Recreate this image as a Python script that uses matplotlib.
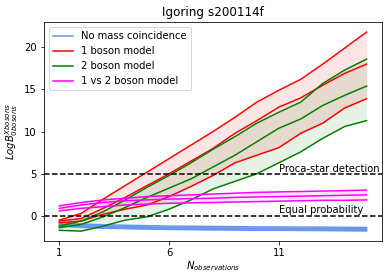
import numpy as np
import matplotlib
matplotlib.use("Agg")
import matplotlib.pyplot as plt

# Number of observations
n_obs = np.arange(1, 16)

# No mass coincidence (upper, median, lower)
none_hi = [-0.8, -0.95, -1.05, -1.1, -1.15, -1.2, -1.22, -1.25, -1.27, -1.3, -1.3, -1.32, -1.33, -1.35, -1.37]
none_md = [-1.0, -1.15, -1.25, -1.3, -1.35, -1.4, -1.42, -1.45, -1.47, -1.5, -1.5, -1.52, -1.53, -1.55, -1.57]
none_lo = [-1.2, -1.35, -1.45, -1.5, -1.55, -1.6, -1.62, -1.65, -1.67, -1.7, -1.7, -1.72, -1.73, -1.75, -1.77]

# 1 boson model
one_hi = [-0.5, 0.3, 2.0, 3.6, 5.2, 6.8, 8.4, 10.0, 11.7, 13.5, 14.9, 16.2, 18.0, 19.9, 21.8]
one_md = [-0.6, -0.3, 0.9, 2.2, 3.6, 5.0, 6.5, 8.0, 9.8, 11.3, 12.9, 14.0, 15.5, 16.9, 18.0]
one_lo = [-0.8, -0.6, 0.2, 0.8, 1.3, 2.3, 3.5, 4.8, 6.3, 7.2, 8.1, 9.8, 11.0, 12.8, 13.9]

# 2 boson model
two_hi = [-1.2, -0.6, 0.5, 1.9, 3.4, 4.8, 6.3, 7.9, 9.4, 11.0, 12.3, 13.5, 15.7, 17.3, 18.6]
two_md = [-1.4, -1.0, -0.1, 1.0, 2.2, 3.3, 4.4, 5.8, 7.2, 8.8, 10.4, 11.5, 13.1, 14.3, 15.4]
two_lo = [-1.7, -1.8, -1.2, -0.5, -0.1, 0.8, 1.9, 3.2, 4.1, 5.0, 6.3, 7.6, 9.2, 10.6, 11.3]

# 1 vs 2 boson model
vs_hi = [1.2, 1.6, 1.9, 2.1, 2.3, 2.4, 2.5, 2.6, 2.7, 2.8, 2.85, 2.9, 2.95, 3.0, 3.07]
vs_md = [0.9, 1.3, 1.6, 1.8, 1.9, 2.0, 2.05, 2.1, 2.2, 2.25, 2.3, 2.35, 2.4, 2.45, 2.5]
vs_lo = [0.6, 0.9, 1.1, 1.3, 1.4, 1.5, 1.55, 1.6, 1.65, 1.7, 1.75, 1.8, 1.85, 1.85, 1.9]

series = [
    ("No mass coincidence", "cornflowerblue", none_hi, none_md, none_lo),
    ("1 boson model", "red", one_hi, one_md, one_lo),
    ("2 boson model", "green", two_hi, two_md, two_lo),
    ("1 vs 2 boson model", "magenta", vs_hi, vs_md, vs_lo),
]

fig = plt.figure(figsize=(389 / 72, 280 / 72), dpi=72)
ax = fig.add_axes([0.113, 0.139, 0.869, 0.782])

for label, color, hi, md, lo in series:
    alpha = 0.8 if color == "cornflowerblue" else 0.1
    ax.fill_between(n_obs, lo, hi, color=color, alpha=alpha, linewidth=0)
    ax.plot(n_obs, md, color=color, label=label)
    ax.plot(n_obs, hi, color=color)
    ax.plot(n_obs, lo, color=color)

ax.axhline(5, color="black", linestyle="--")
ax.axhline(0, color="black", linestyle="--")
ax.text(11, 5.25, "Proca-star detection")
ax.text(11, 0.3, "Equal probability")

ax.set_xticks([1, 6, 11])
ax.set_yticks([0, 5, 10, 15, 20])
ax.set_xlabel("$N_{observations}$", labelpad=1)
ax.set_ylabel("$LogB^{Xbosons}_{0bosons}$")
ax.set_title("Igoring s200114f")
ax.legend(loc="upper left")

plt.savefig("out.png", dpi=72)
